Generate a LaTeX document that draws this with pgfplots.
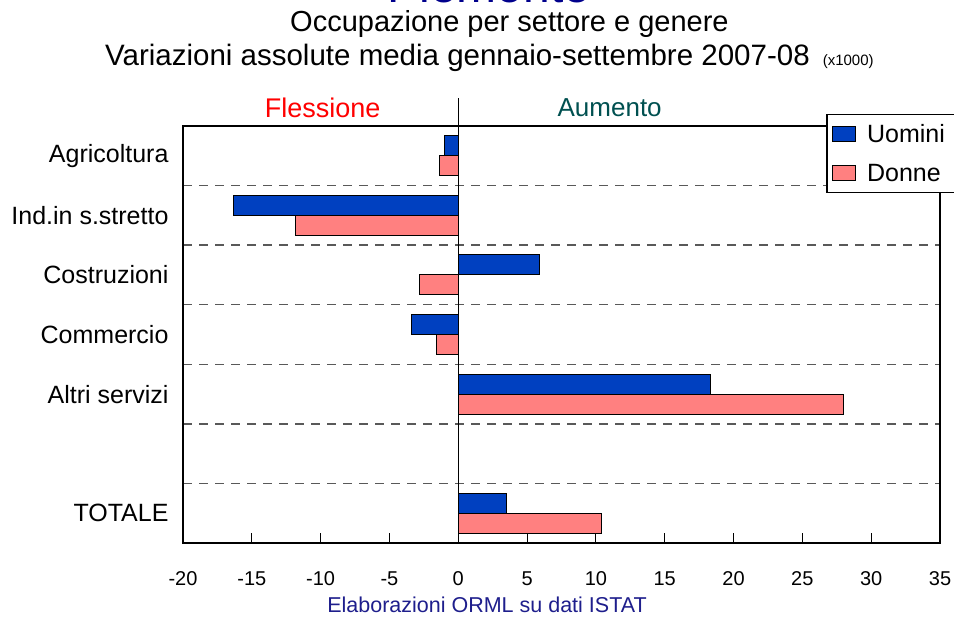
\documentclass[border=0pt]{standalone}
\usepackage{fontspec}
\setmainfont{Liberation Sans}
\usepackage{pgfplots}
\pgfplotsset{compat=1.18}
\definecolor{uom}{RGB}{0,64,192}
\definecolor{don}{RGB}{255,128,128}
\definecolor{navy}{RGB}{0,0,140}
\definecolor{teal2}{RGB}{0,80,80}
\definecolor{foot}{RGB}{30,30,140}
\begin{document}
\begin{tikzpicture}
\begin{axis}[
  at={(183pt,74pt)}, anchor=south west,
  scale only axis, width=757pt, height=417pt,
  xmin=-20, xmax=35, ymin=-0.5, ymax=6.5,
  xbar, bar width=20pt,
  xtick={-20,-15,...,35},
  xtick pos=bottom, tick align=inside, major tick length=10pt,
  x tick style={line width=1pt, black},
  ytick={0,2,3,4,5,6},
  yticklabels={TOTALE,Altri servizi,Commercio,Costruzioni,Ind.in s.stretto,Agricoltura},
  y tick style={draw=none},
  minor ytick={0.5,1.5,...,5.5},
  minor tick length=0pt,
  yminorgrids=true,
  minor grid style={dash pattern=on 9pt off 7pt, line width=1.3pt, color=gray!70!black},
  axis line style={line width=1.2pt},
  /pgf/number format/assume math mode=true,
  xticklabel style={font=\fontsize{20}{24}\selectfont, yshift=-25pt},
  yticklabel style={font=\fontsize{25}{30}\selectfont, xshift=-11pt},
  clip=false,
  legend style={at={(axis description cs:0.850,1.029)}, anchor=north west,
    draw=black, line width=1.2pt, fill=white,
    font=\fontsize{25}{30}\selectfont,
    inner xsep=5pt, inner ysep=7pt, row sep=14pt,
    nodes={inner sep=3pt},
    /tikz/every odd column/.append style={column sep=8pt}},
  legend cell align=left,
]
\addplot[fill=uom, draw=black, line width=1pt, bar shift=10pt,
  legend image code/.code={\draw[fill=uom, draw=black, line width=1pt] (0pt,-7.5pt) rectangle (23pt,7.5pt);}]
  coordinates {(-1.0,6) (-16.3,5) (5.9,4) (-3.4,3) (18.3,2) (3.5,0)};
\addlegendentry{\makebox[88pt][l]{Uomini}}
\addplot[fill=don, draw=black, line width=1pt, bar shift=-10pt,
  legend image code/.code={\draw[fill=don, draw=black, line width=1pt] (0pt,-7.5pt) rectangle (23pt,7.5pt);}]
  coordinates {(-1.4,6) (-11.8,5) (-2.8,4) (-1.6,3) (28.0,2) (10.4,0)};
\addlegendentry{\makebox[88pt][l]{Donne}}
\draw[line width=1.2pt] (axis cs:0,-0.5) -- ([yshift=28pt]axis cs:0,6.5);
\node[text=red, font=\fontsize{27}{30}\selectfont] at ([yshift=18pt]axis cs:-9.85,6.5) {Flessione};
\node[text=teal2, font=\fontsize{26}{30}\selectfont] at ([yshift=18pt]axis cs:11.0,6.5) {Aumento};
\end{axis}
\node[anchor=base, inner sep=0pt, text=navy, font=\fontsize{48}{56}\selectfont] at (489pt,614pt) {Piemonte};
\node[anchor=base west, inner sep=0pt, font=\fontsize{29}{32}\selectfont] at (290pt,585pt) {Occupazione per settore e genere};
\node[anchor=base west, inner sep=0pt, font=\fontsize{29.5}{32}\selectfont] at (105pt,551pt) {Variazioni assolute media gennaio-settembre 2007-08\hspace{13pt}{\fontsize{15}{18}\selectfont(x1000)}};
\node[anchor=base, inner sep=0pt, text=foot, font=\fontsize{21.5}{24}\selectfont] at (487pt,4pt) {Elaborazioni ORML su dati ISTAT};
\pgfresetboundingbox
\useasboundingbox (0,0) rectangle (954pt,617pt);
\end{tikzpicture}
\end{document}
